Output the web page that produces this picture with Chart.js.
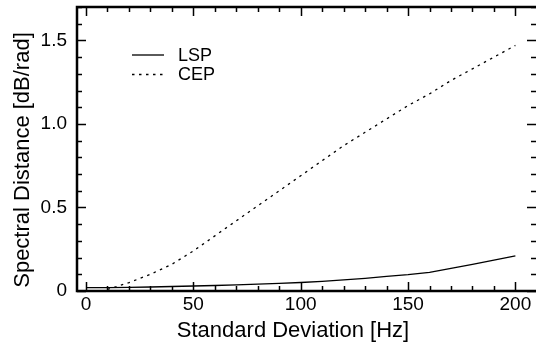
<!DOCTYPE html>
<html>
<head>
<meta charset="utf-8">
<script src="https://cdn.jsdelivr.net/npm/chart.js@4/dist/chart.umd.min.js"></script>
<style>
    html, body { margin: 0; padding: 0; background: #fff; }
    #wrap { width: 536px; height: 349px; }
</style>
</head>
<body>
<div id="wrap"><canvas id="chart" width="536" height="349"></canvas></div>
<script>
// Spectral distance vs. standard deviation of the perturbation
const sigma = [0, 10, 20, 30, 40, 50, 60, 70, 80, 90, 100, 110, 120, 130, 140, 150, 160, 170, 180, 190, 200];
const lsp = [0.020, 0.020, 0.022, 0.024, 0.027, 0.030, 0.033, 0.037, 0.041, 0.046, 0.051,
             0.058, 0.066, 0.076, 0.087, 0.098, 0.112, 0.135, 0.160, 0.185, 0.210];
const cep = [null, 0.01, 0.05, 0.10, 0.16, 0.24, 0.33, 0.42, 0.51, 0.60, 0.69,
             0.78, 0.87, 0.95, 1.03, 1.11, 1.18, 1.26, 1.33, 1.40, 1.47];
const seriesNames = ['LSP', 'CEP'];
const xTicks = [0, 50, 100, 150, 200];
const yTicks = [0, 0.5, 1.0, 1.5];

const FONT = '"Liberation Sans", Arial, Helvetica, sans-serif';

// frame + inward ticks; the right edge of the box falls just outside the picture
const frameTicks = {
    id: 'frameTicks',
    afterDraw(chart) {
        const { ctx, chartArea: a, scales: { x, y } } = chart;
        ctx.save();
        ctx.strokeStyle = '#000';
        ctx.lineWidth = 1.5;
        ctx.beginPath();
        for (let v = 0; v <= 200; v += 10) {
            const px = Math.round(x.getPixelForValue(v)) + 0.5;
            const len = v % 50 === 0 ? 9 : 5;
            ctx.moveTo(px, a.bottom); ctx.lineTo(px, a.bottom - len);
            ctx.moveTo(px, a.top); ctx.lineTo(px, a.top + len);
        }
        for (let i = 0; i <= 17; i++) {
            const py = Math.round(y.getPixelForValue(i / 10)) + 0.5;
            const len = i % 5 === 0 ? 9 : 5;
            ctx.moveTo(a.left, py); ctx.lineTo(a.left + len, py);
            ctx.moveTo(a.right, py); ctx.lineTo(a.right - len, py);
        }
        ctx.stroke();
        ctx.lineWidth = 2.5;
        ctx.beginPath();
        ctx.moveTo(a.right, a.top);
        ctx.lineTo(a.left, a.top);
        ctx.lineTo(a.left, a.bottom);
        ctx.lineTo(a.right, a.bottom);
        ctx.stroke();
        ctx.restore();
    }
};

// legend inside the plot, and the two axis titles
const annotations = {
    id: 'annotations',
    afterDraw(chart) {
        const { ctx } = chart;
        ctx.save();
        ctx.fillStyle = '#000';
        ctx.strokeStyle = '#000';
        ctx.font = '18px ' + FONT;
        ctx.textBaseline = 'middle';
        chart.data.datasets.forEach((ds, i) => {
            const yy = 55 + i * 19.5;
            ctx.lineWidth = ds.borderWidth;
            ctx.setLineDash(ds.borderDash || []);
            ctx.beginPath();
            ctx.moveTo(132, yy);
            ctx.lineTo(164, yy);
            ctx.stroke();
            ctx.fillText(ds.label, 178, yy + 1);
        });
        ctx.setLineDash([]);

        ctx.font = '22px ' + FONT;
        ctx.textAlign = 'center';
        ctx.textBaseline = 'alphabetic';
        ctx.fillText('Standard Deviation [Hz]', 293, 337);

        ctx.translate(23, 160);
        ctx.rotate(-Math.PI / 2);
        ctx.textBaseline = 'middle';
        ctx.fillText('Spectral Distance [dB/rad]', 0, 0);
        ctx.restore();
    }
};

// keep the plot box where the reference has it: no extra room for edge labels
const noEdgePadding = (scale) => {
    scale.paddingTop = 0;
    scale.paddingBottom = 0;
    scale.paddingLeft = 0;
    scale.paddingRight = 0;
};

const chartData = {
    datasets: [
        {
            label: seriesNames[0],
            data: sigma.map((s, i) => ({ x: s, y: lsp[i] })),
            borderColor: '#000',
            borderWidth: 1.3,
            pointRadius: 0,
            tension: 0
        },
        {
            label: seriesNames[1],
            data: sigma.map((s, i) => ({ x: s, y: cep[i] })),
            borderColor: '#000',
            borderWidth: 1.3,
            borderDash: [2.5, 4.5],
            pointRadius: 0,
            tension: 0
        }
    ]
};

const options = {
    responsive: false,
    animation: false,
    layout: { autoPadding: false, padding: { top: 7, right: 0, left: 0, bottom: 0 } },
    plugins: {
        legend: { display: false },
        tooltip: { enabled: false }
    },
    scales: {
        x: {
            type: 'linear',
            min: -4.2,
            max: 209.6,
            grid: { display: false, drawTicks: false },
            border: { display: false },
            afterBuildTicks: (scale) => { scale.ticks = xTicks.map(v => ({ value: v })); },
            afterFit: (scale) => { scale.height = 58; noEdgePadding(scale); },
            ticks: {
                color: '#000',
                padding: 2,
                maxRotation: 0,
                font: { family: FONT, size: 19 }
            }
        },
        y: {
            type: 'linear',
            min: 0,
            max: 1.7,
            grid: { display: false, drawTicks: false },
            border: { display: false },
            afterBuildTicks: (scale) => { scale.ticks = yTicks.map(v => ({ value: v })); },
            afterFit: (scale) => { scale.width = 77; noEdgePadding(scale); },
            ticks: {
                color: '#000',
                padding: 10,
                font: { family: FONT, size: 19 },
                callback: (v) => v === 0 ? '0' : v.toFixed(1)
            }
        }
    }
};

new Chart(document.getElementById('chart'), {
    type: 'line',
    data: chartData,
    options: options,
    plugins: [frameTicks, annotations]
});
</script>
</body>
</html>
